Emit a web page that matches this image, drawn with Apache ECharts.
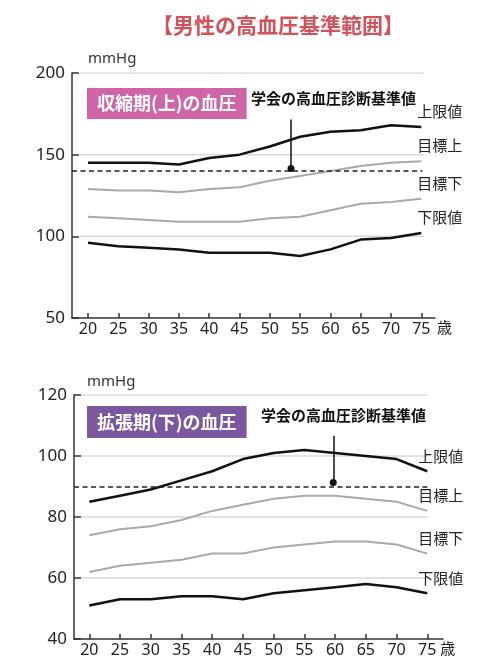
<!DOCTYPE html>
<html>
<head>
<meta charset="utf-8">
<script src="https://cdn.jsdelivr.net/npm/echarts@6/dist/echarts.min.js"></script>
<style>
html,body{margin:0;padding:0;background:#fff;}
#chart{width:500px;height:667px;}
</style>
</head>
<body>
<div id="chart"></div>
<script>
// ---- data ----
var ages = [20, 25, 30, 35, 40, 45, 50, 55, 60, 65, 70, 75];
var seriesNames = ['上限値', '目標上', '目標下', '下限値'];
var sysUpper       = [145, 145, 145, 144, 148, 150, 155, 161, 164, 165, 168, 167];
var sysTargetUpper = [129, 128, 128, 127, 129, 130, 134, 137, 140, 143, 145, 146];
var sysTargetLower = [112, 111, 110, 109, 109, 109, 111, 112, 116, 120, 121, 123];
var sysLower       = [96, 94, 93, 92, 90, 90, 90, 88, 92, 98, 99, 102];
var diaUpper       = [85, 87, 89, 92, 95, 99, 101, 102, 101, 100, 99, 95];
var diaTargetUpper = [74, 76, 77, 79, 82, 84, 86, 87, 87, 86, 85, 82];
var diaTargetLower = [62, 64, 65, 66, 68, 68, 70, 71, 72, 72, 71, 68];
var diaLower       = [51, 53, 53, 54, 54, 53, 55, 56, 57, 58, 57, 55];
var sysThreshold = 140;
var diaThreshold = 90;
var sysTicks = [50, 100, 150, 200];
var diaTicks = [40, 60, 80, 100, 120];
var mainTitle = '【男性の高血圧基準範囲】';
var sysLabel = '収縮期(上)の血圧';
var diaLabel = '拡張期(下)の血圧';
var refLabel = '学会の高血圧診断基準値';
var unitLabel = 'mmHg';
var ageUnit = '歳';

// ---- chart ----
var FONT = "'Noto Sans', 'Noto Sans CJK JP', sans-serif";
var CJK = "'Noto Sans CJK JP', sans-serif";
var chart = echarts.init(document.getElementById('chart'), null, {renderer: 'canvas'});

var X0 = [17.36, 17.51], X1 = [77.26, 77.56], GRIDSTART = [18.7, 18.7], GRIDEND = [75.4, 75.15], DASHEND = [75.2, 75.0];
var arrowX = [53.5, 59.7], arrowTop = [171.5, 106.6], arrowBottom = [141.6, 91.3];

function pairs(vals) { return ages.map(function (a, i) { return [a, vals[i]]; }); }

function buildSeries(idx, sets, thr, ticks, labelOffX) {
  var out = [];
  // horizontal gridlines, drawn through the axes
  ticks.slice(1).forEach(function (v) {
    out.push({
      type: 'line', xAxisIndex: idx, yAxisIndex: idx, silent: true, z: 1,
      data: [[GRIDSTART[idx], v], [GRIDEND[idx], v]], showSymbol: false, symbol: 'none',
      lineStyle: {color: '#d9d9d9', width: 1.5}
    });
  });
  var colors = ['#111', '#a9a9a9', '#a9a9a9', '#111'];
  var widths = [2.5, 2, 2, 2.5];
  sets.forEach(function (vals, k) {
    out.push({
      type: 'line', name: seriesNames[k], xAxisIndex: idx, yAxisIndex: idx,
      data: pairs(vals), showSymbol: false, symbol: 'none', silent: true,
      z: k === 0 || k === 3 ? 4 : 3,
      lineStyle: {color: colors[k], width: widths[k]},
      endLabel: {show: true, formatter: seriesNames[k], distance: 0,
        offset: [labelOffX, -14], color: '#222', fontSize: 15, fontFamily: FONT}
    });
  });
  out.push({
    type: 'line', xAxisIndex: idx, yAxisIndex: idx, data: [], silent: true, z: 5,
    markLine: {silent: true, symbol: 'none', label: {show: false}, animation: false,
      lineStyle: {color: '#222', width: 1.5, type: [5, 3.5]},
      data: [[{coord: [X0[idx], thr]}, {coord: [DASHEND[idx], thr]}]]}
  });
  out.push({
    type: 'line', xAxisIndex: idx, yAxisIndex: idx, data: [], silent: true, z: 6,
    markLine: {silent: true, symbol: ['none', 'circle'], symbolSize: 7, label: {show: false}, animation: false,
      lineStyle: {color: '#111', width: 1.5, type: 'solid'},
      itemStyle: {color: '#111'},
      data: [[{coord: [arrowX[idx], arrowTop[idx]]}, {coord: [arrowX[idx], arrowBottom[idx]], symbol: 'circle', symbolSize: 7}]]}
  });
  return out;
}

function xAxisCfg(idx, nameGap) {
  return {
    type: 'value', gridIndex: idx, min: X0[idx], max: X1[idx],
    name: ageUnit, nameLocation: 'end', nameGap: nameGap,
    nameTextStyle: {color: '#222', fontSize: 15, fontFamily: FONT, verticalAlign: 'top', padding: [3, 0, 0, 0], align: 'left'},
    axisLine: {show: true, onZero: false, lineStyle: {color: '#333', width: 1.5}},
    axisTick: {show: true, inside: true, length: 5, customValues: ages, lineStyle: {color: '#333', width: 1.5}},
    axisLabel: {show: true, customValues: ages, margin: 3, color: '#222', fontSize: 16, fontFamily: FONT},
    splitLine: {show: false}
  };
}
function yAxisCfg(idx, ticks) {
  return {
    type: 'value', gridIndex: idx, min: ticks[0], max: ticks[ticks.length - 1],
    interval: ticks[1] - ticks[0],
    axisLine: {show: true, lineStyle: {color: '#333', width: 1.5}},
    axisTick: {show: true, inside: true, length: 7, lineStyle: {color: '#333', width: 1.5}},
    axisLabel: {margin: 7, color: '#222', fontSize: 17, fontFamily: FONT},
    splitLine: {show: false}
  };
}

var option = {
  animation: false,
  backgroundColor: '#fff',
  title: [
    {text: mainTitle, left: 152, top: 15, textStyle: {color: '#d4505a', fontSize: 21, fontWeight: 'bold', fontFamily: FONT, lineHeight: 24}, padding: 0},
    {text: unitLabel, left: 88, top: 50, textStyle: {color: '#333', fontSize: 15, fontWeight: 'normal', fontFamily: FONT, lineHeight: 18}, padding: 0},
    {text: unitLabel, left: 87, top: 373, textStyle: {color: '#333', fontSize: 15, fontWeight: 'normal', fontFamily: FONT, lineHeight: 18}, padding: 0},
    {text: sysLabel, left: 87, top: 88, backgroundColor: '#cf64a6', padding: [5, 10],
      textStyle: {color: '#fff', fontSize: 18, fontWeight: 'bold', fontFamily: CJK, lineHeight: 21}},
    {text: diaLabel, left: 87, top: 406, backgroundColor: '#7b579f', padding: [5.5, 10],
      textStyle: {color: '#fff', fontSize: 18, fontWeight: 'bold', fontFamily: CJK, lineHeight: 21}},
    {text: refLabel, left: 251, top: 91, padding: 0,
      textStyle: {color: '#111', fontSize: 15, fontWeight: 'bold', fontFamily: FONT, lineHeight: 18}},
    {text: refLabel, left: 261, top: 408, padding: 0,
      textStyle: {color: '#111', fontSize: 15, fontWeight: 'bold', fontFamily: FONT, lineHeight: 18}}
  ],
  grid: [
    {left: 72, top: 73, width: 363, height: 245, containLabel: false},
    {left: 74, top: 395, width: 369, height: 244, containLabel: false}
  ],
  xAxis: [xAxisCfg(0, 2), xAxisCfg(1, -6)],
  yAxis: [yAxisCfg(0, sysTicks), yAxisCfg(1, diaTicks)],
  series: [].concat(
    buildSeries(0, [sysUpper, sysTargetUpper, sysTargetLower, sysLower], sysThreshold, sysTicks, -4),
    buildSeries(1, [diaUpper, diaTargetUpper, diaTargetLower, diaLower], diaThreshold, diaTicks, -9)
  )
};
chart.setOption(option);
</script>
</body>
</html>
